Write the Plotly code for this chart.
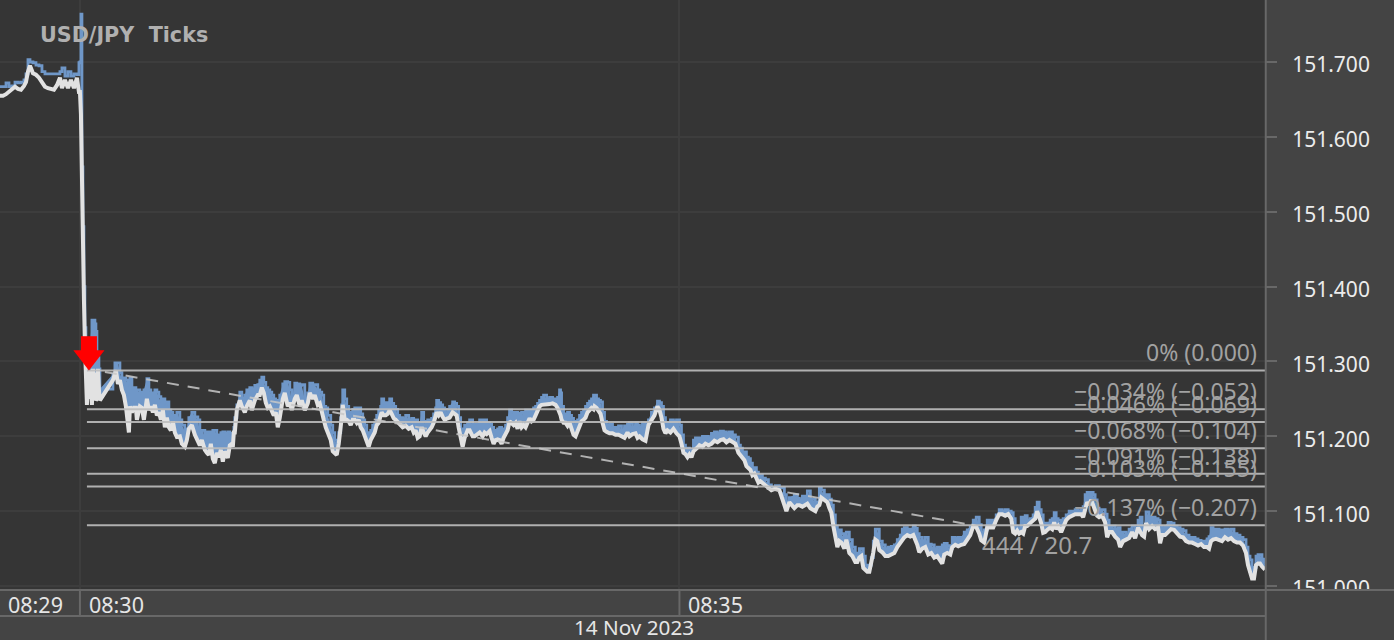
import pandas as pd
import plotly.graph_objects as go

# Tick time in half-seconds after 08:29:20; prices in thousandths above 151
tick_halfsec = [
0,3,6,9,12,15,18,21,24,26,28,30,33,36,39,42,45,48,51,54,57,60,62,65,68,71,74,77,79,80,
81,82,83,84,85,86,87,88,89,90,92,93,94,95,96,97,98,99,100,113,115,116,118,120,122,124,126,128,129,130,
132,134,136,137,140,142,144,147,149,151,153,155,157,159,161,163,165,167,169,171,173,175,177,180,182,185,187,189,192,195,
198,200,202,205,207,209,211,213,215,217,219,221,223,225,228,230,232,233,234,235,237,240,242,245,247,250,252,255,258,260,
262,264,266,268,270,272,274,276,278,280,283,285,288,290,292,295,297,300,302,305,308,310,313,315,318,320,322,324,326,328,
331,333,335,337,339,341,342,343,344,345,347,349,351,353,355,357,359,361,363,365,367,369,371,373,375,377,379,381,382,384,
386,388,390,392,394,396,398,400,403,406,409,412,414,416,418,420,422,424,426,428,430,432,434,436,437,439,441,443,445,448,
450,453,455,457,459,461,463,465,468,470,473,475,478,480,483,485,487,490,492,494,496,498,500,502,504,506,508,510,512,514,
516,518,520,522,524,526,528,530,532,534,536,538,540,542,544,547,550,553,556,558,560,561,562,564,566,568,570,572,574,576,
578,580,582,584,586,588,590,592,594,595,597,599,601,603,605,607,610,613,616,619,622,625,628,630,633,636,638,640,643,646,
649,652,655,658,660,662,664,666,668,671,674,677,680,682,684,686,688,690,692,694,696,698,700,703,706,709,712,715,718,721,
724,727,730,733,736,739,741,743,745,747,749,751,753,755,757,759,761,763,766,769,772,776,780,785,787,790,795,798,800,803,
806,808,811,814,816,818,820,822,825,828,830,832,834,836,838,840,842,845,847,850,853,856,858,860,862,864,866,868,870,872,
874,876,878,880,883,886,889,892,895,898,901,903,905,908,911,914,916,918,920,923,926,929,932,935,938,941,943,945,948,951,
953,956,959,962,965,968,971,974,977,980,982,985,988,991,994,997,1000,1003,1006,1009,1012,1014,1016,1018,1020,1022,1024,1026,1028,1031,
1034,1036,1038,1040,1042,1044,1046,1048,1051,1053,1055,1057,1059,1062,1064,1067,1070,1073,1076,1079,1082,1084,1086,1088,1090,1092,1094,1096,1098,1100,
1103,1106,1108,1110,1113,1116,1119,1121,1124,1127,1130,1133,1136,1139,1141,1143,1145,1147,1150,1153,1156,1159,1161,1163,1166,1169,1172,1175,1178,1181,
1184,1187,1190,1193,1196,1199,1202,1205,1208,1210,1212,1214,1217,1220,1223,1226,1229,1232,1235,1238,1241,1244,1247,1249,1251,1253,1255,1257,1259,1261,
1263,1265,1266,
]
ask_milli = [
667,667,672,667,668,673,672,673,676,684,703,700,699,696,695,687,684,684,684,684,684,687,692,681,687,681,684,683,699,700,
764,560,480,400,345,320,302,300,305,320,355,355,355,350,340,300,305,290,263,283,298,298,298,285,275,278,275,270,265,278,
262,265,262,262,258,259,262,277,262,258,258,262,259,253,245,250,240,246,235,232,228,225,232,222,215,206,210,225,232,226,
222,206,208,200,206,204,206,208,208,202,200,205,206,204,206,200,204,204,212,225,242,259,250,255,262,265,262,268,269,275,
279,272,265,262,259,255,250,248,245,255,270,273,272,262,248,271,270,268,269,248,258,271,269,269,262,259,255,240,238,228,
215,205,195,190,205,225,242,262,262,250,240,232,230,236,238,236,238,230,222,215,205,200,208,215,218,228,235,240,250,240,
245,242,250,244,240,236,228,225,222,228,222,224,218,222,215,218,232,220,215,222,219,224,230,238,248,245,242,238,236,232,
240,246,244,240,225,210,200,215,218,222,215,216,216,222,218,222,218,216,212,205,208,210,212,206,210,215,225,235,232,229,
232,226,231,232,226,235,230,235,232,238,240,244,248,252,255,250,252,250,248,252,262,258,240,230,228,232,228,224,220,215,
222,228,232,235,240,244,247,250,255,255,250,248,246,232,220,215,216,212,212,214,208,214,216,218,212,218,215,212,218,216,
222,232,238,247,245,240,225,215,218,222,220,222,215,202,188,182,184,182,179,195,198,195,198,200,200,198,204,206,204,207,
206,204,206,202,199,188,184,178,179,172,170,164,158,158,152,148,148,144,142,135,132,134,131,122,112,118,122,117,115,120,
118,127,116,116,108,112,131,128,122,122,116,108,95,80,74,75,70,64,72,62,52,44,40,50,50,40,28,25,28,38,
60,76,76,60,55,50,52,53,55,62,68,76,78,76,76,80,77,70,65,60,65,56,55,50,52,48,55,57,54,50,
65,64,65,65,72,75,79,88,92,82,72,75,88,88,88,95,102,100,102,100,98,90,80,78,78,92,92,94,88,90,
95,105,112,102,95,84,80,84,88,90,98,90,88,84,90,95,100,100,102,100,102,106,122,125,120,125,122,115,104,102,
102,96,88,80,80,76,78,72,72,68,76,80,72,88,92,78,80,99,92,92,90,88,80,78,80,85,84,80,78,76,
74,68,65,65,63,61,60,60,63,66,78,76,76,75,75,76,75,76,70,68,65,62,52,40,35,16,25,40,42,42,
36,32,30,
]
bid_milli = [
655,655,657,660,663,667,664,663,668,673,687,695,685,683,679,673,667,665,664,663,669,679,665,676,665,676,665,679,660,660,
630,515,436,382,322,286,242,285,250,288,242,290,252,285,248,250,290,262,248,275,286,288,270,275,262,255,240,222,205,240,
232,238,238,222,240,238,222,250,235,240,232,242,228,232,222,235,212,225,212,208,220,205,199,200,190,186,195,210,215,202,
195,188,195,182,178,175,190,170,164,178,172,182,166,180,171,188,190,186,205,205,235,248,240,232,240,248,235,248,255,255,
265,258,245,238,240,235,228,232,212,225,250,258,240,245,235,250,255,240,248,235,244,258,250,255,242,244,235,222,212,205,
195,180,178,175,190,210,225,242,232,222,222,220,215,222,222,218,222,212,208,200,190,186,195,200,205,215,218,228,232,228,
228,230,235,230,224,222,219,215,212,214,210,212,205,208,198,200,212,205,200,205,208,212,218,225,232,228,232,226,222,224,
225,232,230,228,212,195,186,198,208,208,200,200,203,205,200,205,203,207,198,190,195,196,195,190,198,202,208,220,218,215,
218,210,220,212,215,212,218,224,220,222,228,235,240,242,242,242,243,244,242,238,232,228,222,218,218,214,218,208,202,200,
208,212,220,222,225,232,235,238,236,240,238,234,230,218,208,206,204,204,202,202,200,198,205,200,203,204,198,200,196,194,
215,222,228,240,235,225,210,204,208,205,210,204,200,190,178,176,172,176,172,180,182,185,188,186,190,188,190,194,192,195,
196,192,195,192,190,178,175,170,168,160,158,155,148,150,144,138,140,138,134,131,128,130,128,108,100,112,104,108,108,106,
108,110,104,102,100,106,108,118,115,112,104,98,80,64,52,60,58,50,62,44,40,32,32,38,40,24,21,19,19,30,
45,62,60,48,45,40,40,42,44,52,58,62,65,68,66,68,62,55,45,50,52,42,44,38,40,34,30,42,44,42,
52,55,53,55,56,62,68,80,79,70,61,58,78,78,78,88,96,96,94,96,90,72,70,74,70,72,70,80,80,84,
88,90,100,92,84,71,72,75,78,76,85,76,80,72,80,88,92,94,96,96,96,92,105,112,108,115,108,100,94,92,
94,85,65,72,72,66,62,52,60,62,64,72,64,78,72,68,66,84,76,80,76,78,57,68,68,72,76,75,70,66,
65,60,58,58,56,54,56,52,52,50,60,62,63,62,60,65,62,64,60,58,58,54,44,28,18,10,10,28,30,30,
26,24,22,
]
assert len(tick_halfsec) == len(ask_milli) == len(bid_milli), (len(tick_halfsec), len(ask_milli), len(bid_milli))

level_start_halfsec = 87
level_base = 151.288
level_changes = [0.000, -0.052, -0.069, -0.104, -0.138, -0.155, -0.207]
level_labels = ["0% (0.000)", "−0.034% (−0.052)", "−0.046% (−0.069)", "−0.068% (−0.104)",
                "−0.091% (−0.138)", "−0.103% (−0.155)", "−0.137% (−0.207)"]
trend_halfsec = [105, 975]
trend_price = [151.286, 151.081]
signal_halfsec = [89, 89]
signal_price = [151.323, 151.306]
price_ticks = [151.0, 151.1, 151.2, 151.3, 151.4, 151.5, 151.6, 151.7]
time_ticks = ["2023-11-14 08:30:00", "2023-11-14 08:35:00"]

origin = pd.Timestamp("2023-11-14 08:29:20")
def to_time(h):
    return origin + pd.to_timedelta(pd.Series(h, dtype=float) / 2, unit="s")

t = to_time(tick_halfsec)
ask = [151 + v / 1000 for v in ask_milli]
bid = [151 + v / 1000 for v in bid_milli]
BG, PANEL, EDGE = "#353535", "#444444", "#686868"
BLUE, WHITE = "#6f97c8", "#e2e2e2"
H = 589.0
FALL = 30   # ticks before the drop show a gap between ask and bid

fig = go.Figure()
fig.add_trace(go.Scatter(x=t, y=ask, mode="lines", line=dict(color=BLUE, width=2.8, shape="hv")))
fig.add_trace(go.Scatter(x=t[FALL:], y=ask[FALL:], mode="lines", line=dict(width=0)))
fig.add_trace(go.Scatter(x=t[FALL:], y=bid[FALL:], mode="lines", line=dict(width=0),
                         fill="tonexty", fillcolor=BLUE))
fig.add_trace(go.Scatter(x=t, y=bid, mode="lines", line=dict(color=WHITE, width=4)))
end_time = origin + pd.Timedelta(seconds=633)
lv_start = to_time([level_start_halfsec])[0]
for ch in level_changes:
    fig.add_trace(go.Scatter(x=[lv_start, end_time], y=[level_base + ch] * 2, mode="lines",
                             line=dict(color="rgba(190,190,190,0.9)", width=2)))
fig.add_trace(go.Scatter(x=to_time(trend_halfsec), y=trend_price, mode="lines",
                         line=dict(color="rgba(200,200,200,0.85)", width=2, dash="12px,9px")))
fig.add_trace(go.Scatter(x=to_time(signal_halfsec), y=signal_price, mode="markers",
                         marker=dict(symbol=["square", "triangle-down"], size=[16, 27], color="#ff0000",
                                     opacity=1, line=dict(width=0))))

ann = []
for ch, lab in zip(level_changes, level_labels):
    ann.append(dict(xref="paper", x=1258 / 1265, xanchor="right", yref="y", y=level_base + ch,
                    yanchor="middle", yshift=18, text=lab, showarrow=False,
                    font=dict(family="Noto Sans", size=23, color="#a2a2a2"), borderpad=0))
ann.append(dict(xref="x", x=to_time([982])[0], xanchor="left", yref="y", y=151.055, yanchor="middle",
                text="444 / 20.7", showarrow=False, borderpad=0,
                font=dict(family="Noto Sans", size=24, color="#a2a2a2")))
for when, anchor, shift, lab in [(time_ticks[0], "right", -16, "08:29"), (time_ticks[0], "left", 8, "08:30"),
                                 (time_ticks[1], "left", 8, "08:35")]:
    ann.append(dict(xref="x", x=when, xanchor=anchor, xshift=shift, yref="paper", y=0, yanchor="middle", yshift=-15,
                    text=lab, showarrow=False, borderpad=0,
                    font=dict(family="Noto Sans", size=21.5, color="#e6e6e6")))
ann.append(dict(xref="paper", x=634 / 1265, xanchor="center", yref="paper", y=0, yanchor="middle", yshift=-38,
                text="14 Nov 2023", showarrow=False, borderpad=0,
                font=dict(family="Noto Sans", size=20.7, color="#e6e6e6")))

shapes = [
    dict(type="rect", xref="paper", yref="paper", x0=0, x1=1394 / 1265, y0=-51 / H, y1=0,
         fillcolor=PANEL, line=dict(width=0), layer="above"),
    dict(type="line", xref="paper", yref="paper", x0=0, x1=1394 / 1265, y0=-1 / H, y1=-1 / H,
         line=dict(color=EDGE, width=2), layer="above"),
    dict(type="line", xref="paper", yref="paper", x0=0, x1=1, y0=-27 / H, y1=-27 / H,
         line=dict(color=EDGE, width=2), layer="above"),
    dict(type="line", xref="paper", yref="paper", x0=1.0006, x1=1.0006, y0=-51 / H, y1=1,
         line=dict(color=EDGE, width=2), layer="above"),
]
for when in time_ticks:
    shapes.append(dict(type="line", xref="x", yref="paper", x0=when, x1=when, y0=-27 / H, y1=0,
                       line=dict(color=EDGE, width=2), layer="above"))

fig.update_layout(
    width=1394, height=640, margin=dict(l=0, r=129, t=0, b=51), autosize=False,
    paper_bgcolor=PANEL, plot_bgcolor=BG, showlegend=False, hovermode=False,
    title=dict(text="<b>USD/JPY  Ticks</b>", xref="container", x=40 / 1394, xanchor="left",
               yref="container", y=1 - 35 / 640, yanchor="middle",
               font=dict(family="DejaVu Sans", size=20.7, color="#b0b0b0")),
    annotations=ann, shapes=shapes,
    xaxis=dict(range=[origin, end_time], tickvals=time_ticks, showticklabels=False, ticks="",
               showgrid=True, gridcolor="#3d3d3d", gridwidth=2, zeroline=False, showline=False),
    yaxis=dict(range=[150.996, 151.7828], side="right", tickvals=price_ticks, tickformat=".3f",
               showgrid=True, gridcolor="#3d3d3d", gridwidth=2, zeroline=False, showline=False,
               ticks="outside", ticklen=11, tickcolor=EDGE, tickwidth=2, ticklabelstandoff=11,
               ticklabelshift=3, tickfont=dict(family="Noto Sans", size=21, color="#ececec")),
)
fig.write_html("out.html", post_script="document.body.style.margin='0';",
               config=dict(displayModeBar=False))
